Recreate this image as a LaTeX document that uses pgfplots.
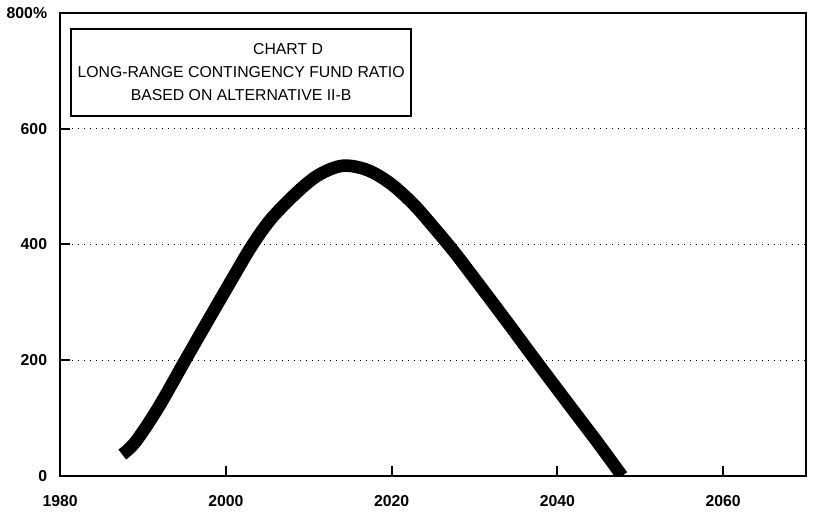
\documentclass[border=0pt]{standalone}
\usepackage{fontspec}
\setmainfont{Liberation Sans}
\usepackage{pgfplots}
\pgfplotsset{compat=1.18}
\begin{document}
\begin{tikzpicture}
\begin{axis}[
  scale only axis,
  width=373pt, height=231.5pt,
  xmin=1980, xmax=2070, ymin=0, ymax=800,
  xtick={1980,2000,2020,2040,2060},
  ytick={0,200,400,600,800},
  yticklabels={0,200,400,600,800\%},
  /pgf/number format/assume math mode=true,
  /pgf/number format/set thousands separator={},
  tick align=inside,
  xtick pos=bottom, ytick pos=left,
  major tick length=5pt,
  tick style={line width=1pt, black},
  axis line style={line width=1.2pt},
  ymajorgrids,
  grid style={line width=0.6pt, dash pattern=on 0.6pt off 2.4pt, black},
  ticklabel style={font=\bfseries\fontsize{7.9}{9}\selectfont},
  xticklabel style={yshift=-6pt},
  yticklabel style={xshift=-3pt},
  clip=true,
]
\addplot[line width=6.3pt, black, smooth, tension=0.55, line cap=butt] coordinates {
(1987.5,37) (1989.1,59) (1991.8,117) (1995.1,200) (1997.5,260) (2000.7,339)
(2003.1,397) (2005.5,445) (2008.8,493) (2011.3,521) (2014.1,536) (2017.0,529)
(2019.8,506) (2022.6,470) (2025.0,431) (2027.5,388) (2029.9,343) (2034.0,265)
(2037.2,203) (2041.3,125) (2045.0,55) (2047.8,0)
};
\node[draw, line width=1pt, fill=white, anchor=north west, minimum width=170pt,
  minimum height=43.5pt, align=center, inner sep=2pt,
  font=\fontsize{7.9}{11.5}\selectfont] at (rel axis cs:0.0134,0.968)
  {\hspace*{47pt}CHART D\\LONG-RANGE CONTINGENCY FUND RATIO\\BASED ON ALTERNATIVE II-B};
\end{axis}
\path (current axis.south west) ++(-30pt,-18.5pt) coordinate (bl);
\path (current axis.north east) ++(4.5pt,6.5pt) coordinate (tr);
\path (bl) rectangle (tr);
\end{tikzpicture}
\end{document}
